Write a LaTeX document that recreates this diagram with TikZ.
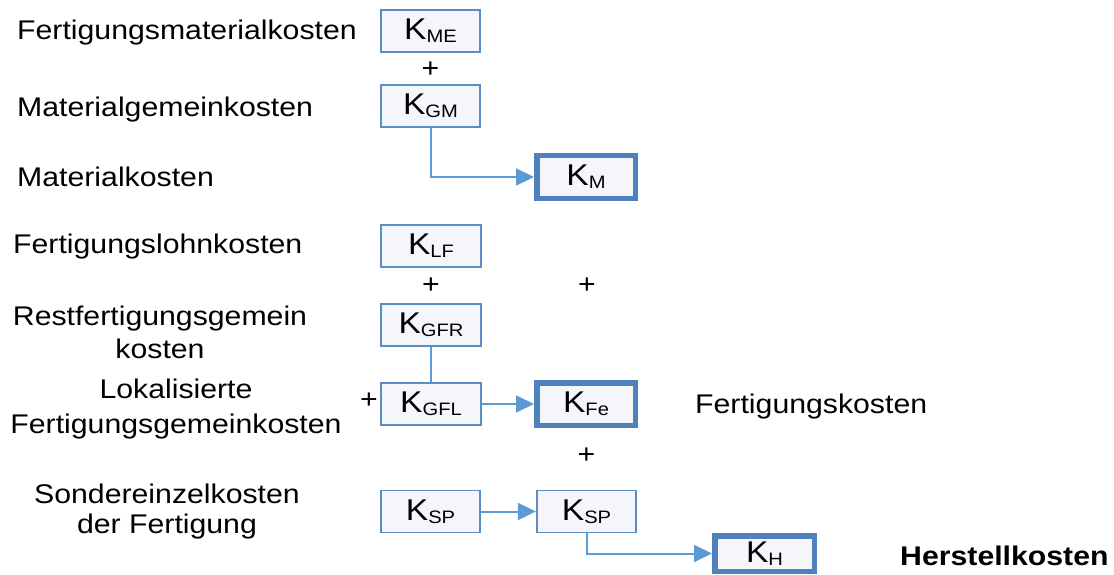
\documentclass[tikz,border=0pt]{standalone}
\usepackage{fontspec}
\setmainfont[FakeStretch=1.12]{Liberation Sans}
\usetikzlibrary{arrows.meta}

\definecolor{boxline}{RGB}{91,141,196}
\definecolor{boxthick}{RGB}{79,129,189}
\definecolor{flow}{RGB}{91,155,213}
\definecolor{boxfill}{RGB}{244,246,251}

% cost symbol K with a lowered, smaller index
\newcommand\costsym[1]{K\raisebox{-2.7pt}{\fontsize{18}{18}\selectfont #1}}

\begin{document}
\begin{tikzpicture}[x=1pt,y=-1pt,
  lbl/.style={font=\fontsize{27}{30}\selectfont, inner sep=0pt},
  plus/.style={font=\fontsize{27}{30}\selectfont, inner sep=0pt},
  cbox/.style={draw=boxline, line width=1.8pt, fill=boxfill,
    minimum width=99.5pt, minimum height=42pt, inner sep=0pt,
    font=\fontsize{30}{30}\selectfont},
  totbox/.style={cbox, draw=boxthick, line width=5.5pt,
    minimum width=98.5pt, minimum height=42.5pt},
  flowline/.style={draw=flow, line width=2pt},
  flowarrow/.style={flowline, -{Triangle[length=18pt,width=17pt]}}
]
\useasboundingbox (0,0) rectangle (1114,575);

% row labels
\node[lbl, anchor=base west] (lme) at (17,40) {Fertigungsmaterialkosten};
\node[lbl, anchor=base west] (lgm) at (17,117) {Materialgemeinkosten};
\node[lbl, anchor=base west] (lm) at (17,186) {Materialkosten};
\node[lbl, anchor=base west] (llf) at (13,253) {Fertigungslohnkosten};
\node[lbl, anchor=base, align=center, font=\fontsize{27}{33}\selectfont] (lgfr) at (160,358) {Restfertigungsgemein\\kosten};
\node[lbl, anchor=base, align=center, font=\fontsize{27}{35}\selectfont] (lgfl) at (176,433) {Lokalisierte\\Fertigungsgemeinkosten};
\node[lbl, anchor=base, align=center, font=\fontsize{27}{30}\selectfont] (lsp) at (167,533) {Sondereinzelkosten\\der Fertigung};
\node[lbl, anchor=base west] (lfe) at (695,413) {Fertigungskosten};
\node[lbl, anchor=base west, font=\fontsize{27}{30}\selectfont\bfseries] (lh) at (900,565) {Herstellkosten};

% cost boxes
\node[cbox] (kme) at (430.5,31) {\costsym{ME}};
\node[cbox] (kgm) at (430.5,106) {\costsym{GM}};
\node[totbox] (km) at (586,177) {\costsym{M}};
\node[cbox] (klf) at (431,246) {\costsym{LF}};
\node[cbox] (kgfr) at (431,325) {\costsym{GFR}};
\node[cbox] (kgfl) at (431,404) {\costsym{GFL}};
\node[totbox] (kfe) at (586,404) {\costsym{Fe}};
\node[cbox] (ksp1) at (430.5,511.5) {\costsym{SP}};
\node[cbox] (ksp2) at (586.5,511.5) {\costsym{SP}};
\node[totbox, minimum width=99.5pt, minimum height=35.5pt] (kh) at (764.5,553.5) {\costsym{H}};

% plus signs
\node[plus] (p1) at (430.5,70) {+};
\node[plus] (p2) at (431,286) {+};
\node[plus] (p3) at (587,286) {+};
\node[plus] (p4) at (369,400.5) {+};
\node[plus] (p5) at (586.5,455.5) {+};

% connectors
\draw[flowarrow] (kgm.south) |- (km.west);
\draw[flowline] (kgfr.south) -- (kgfl.north);
\draw[flowarrow] (kgfl.east) -- (kfe.west);
\draw[flowarrow] (ksp1.east) -- (ksp2.west);
\draw[flowarrow] (ksp2.south) |- (kh.west);
\end{tikzpicture}
\end{document}
